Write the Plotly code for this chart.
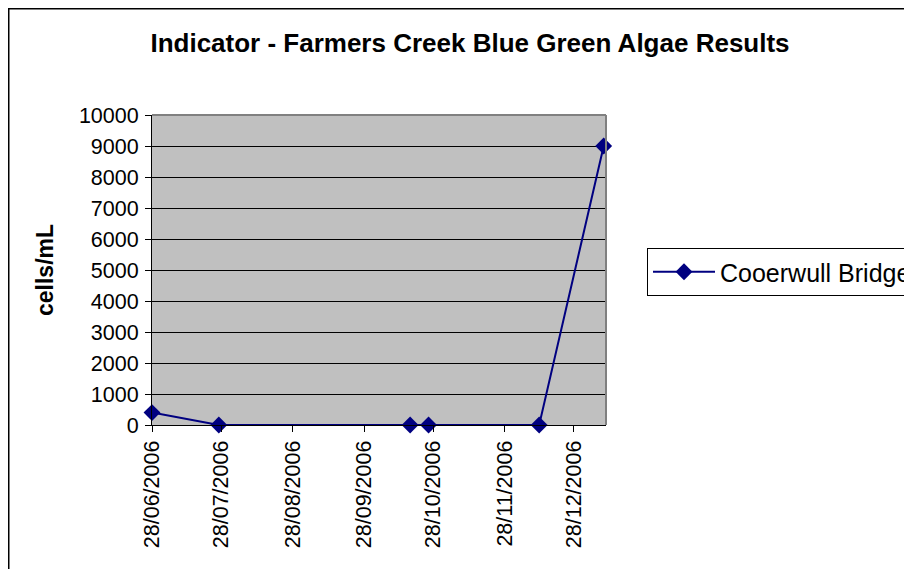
import plotly.graph_objects as go

# Data
dates = ["2006-06-28", "2006-07-27", "2006-10-18", "2006-10-26", "2006-12-13", "2007-01-10"]
values = [400, 0, 0, 0, 0, 9000]
series_name = "Cooerwull Bridge"
tick_dates = ["2006-06-28", "2006-07-28", "2006-08-28", "2006-09-28",
              "2006-10-28", "2006-11-28", "2006-12-28"]
tick_labels = ["28/06/2006", "28/07/2006", "28/08/2006", "28/09/2006",
               "28/10/2006", "28/11/2006", "28/12/2006"]
y_ticks = [0, 1000, 2000, 3000, 4000, 5000, 6000, 7000, 8000, 9000, 10000]
y_tick_labels = ["0", "1000", "2000", "3000", "4000", "5000", "6000", "7000",
                 "8000", "9000", "10000"]
title = "Indicator - Farmers Creek Blue Green Algae Results"
y_title = "cells/mL"

W, H = 912, 569
L, R, T, B = 144, 598, 107, 417  # plot area pixel box (figure coords)

def px_x(p):
    return (p - L) / (R - L)

def px_y(p):
    return (B - p) / (B - T)

FONT = "Liberation Sans, Arial, sans-serif"
NAVY = "#000080"

fig = go.Figure()
fig.add_trace(go.Scatter(
    x=dates, y=values, name=series_name, mode="lines+markers",
    line=dict(color=NAVY, width=2),
    marker=dict(symbol="diamond", size=13, color=NAVY),
    cliponaxis=False,
))

fig.update_layout(
    width=W, height=H,
    margin=dict(l=L, r=W - R, t=T, b=H - B, pad=0, autoexpand=False),
    paper_bgcolor="white",
    plot_bgcolor="#C0C0C0",
    font=dict(family=FONT, size=21, color="black"),
    title=dict(text="<b>" + title + "</b>", x=462 / W, xref="container",
               xanchor="center", y=1 - 35 / H, yref="container", yanchor="middle",
               font=dict(size=26, family=FONT, color="black")),
    xaxis=dict(
        type="date", range=["2006-06-28", "2007-01-11"],
        tickvals=tick_dates, ticktext=tick_labels, tickangle=-90,
        showgrid=False, zeroline=False,
        showline=True, linecolor="black", linewidth=1,
        ticks="outside", ticklen=6, tickcolor="black", tickwidth=1,
        tickfont=dict(size=21.5),
    ),
    yaxis=dict(
        range=[0, 10000], tickvals=y_ticks, ticktext=y_tick_labels,
        showgrid=True, gridcolor="black", gridwidth=1,
        zeroline=False,
        showline=True, linecolor="black", linewidth=1,
        ticks="outside", ticklen=6, tickcolor="black", tickwidth=1,
        ticklabelstandoff=2,
        tickfont=dict(size=21.5),
    ),
    showlegend=True,
    legend=dict(
        x=px_x(639), y=px_y(240), xanchor="left", yanchor="top",
        bordercolor="black", borderwidth=1, bgcolor="white",
        itemwidth=62,
        font=dict(size=25),
    ),
    shapes=[
        # plot area top/right border (gray)
        dict(type="line", xref="paper", yref="paper", x0=0, x1=1, y0=1, y1=1,
             line=dict(color="#808080", width=2)),
        dict(type="line", xref="paper", yref="paper", x0=1, x1=1, y0=0, y1=1,
             line=dict(color="#808080", width=2)),
        # chart outer border
        dict(type="rect", xref="paper", yref="paper",
             x0=px_x(0.5), x1=px_x(930), y0=px_y(0.5), y1=px_y(590),
             line=dict(color="black", width=2), fillcolor="rgba(0,0,0,0)"),
    ],
    annotations=[
        dict(text="<b>" + y_title + "</b>", xref="paper", yref="paper",
             x=px_x(37), y=px_y(262), textangle=-90, showarrow=False,
             xanchor="center", yanchor="middle",
             font=dict(size=23, family=FONT, color="black")),
    ],
)

fig.write_html("out.html")
